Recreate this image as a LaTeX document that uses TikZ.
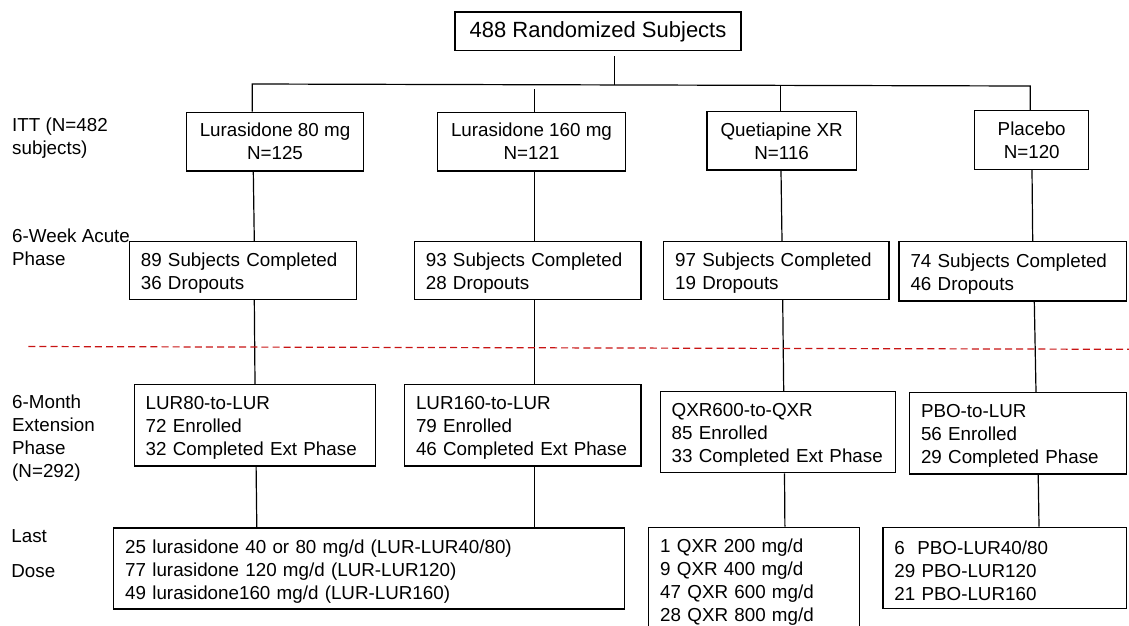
\documentclass[tikz,border=0pt]{standalone}
\usepackage{fontspec}
\setmainfont{Liberation Sans}
\newcommand{\bodyfont}{\fontsize{18.8}{23}\selectfont}
\newcommand{\topfont}{\fontsize{22}{26}\selectfont}
\newcommand{\firstlift}{\rule{0pt}{18.9pt}}
\definecolor{sepred}{RGB}{200,20,20}
\tikzset{
  box/.style={draw, line width=1.2pt, inner ysep=0pt, font=\bodyfont},
  topbox/.style={box, align=center, inner xsep=0pt, font=\topfont},
  cbox/.style={box, align=center, inner xsep=0pt, execute at begin node=\firstlift},
  lbox/.style={box, align=left, inner xsep=11.5pt, execute at begin node=\firstlift},
  lab/.style={anchor=west, inner sep=0pt, align=left, font=\bodyfont},
  conn/.style={line width=1.2pt},
  sepline/.style={draw=sepred, line width=1.2pt, dash pattern=on 7pt off 4.1pt},
}
\begin{document}
\begin{tikzpicture}[x=1pt,y=-1pt]
\useasboundingbox (0,0) rectangle (1129,625);
\clip (0,0) rectangle (1129,625);

% top
\node[topbox, minimum width=286pt, minimum height=38.7pt] (top) at (598,31.35) {488 Randomized Subjects};

% arms
\node[cbox, minimum width=176.6pt, minimum height=58.7pt] (b1) at (275,141.65) {Lurasidone 80 mg\\N=125};
\node[cbox, minimum width=187.6pt, minimum height=58.7pt] (b2) at (531.5,141.65) {Lurasidone 160 mg\\N=121};
\node[cbox, minimum width=149.3pt, minimum height=58.3pt] (b3) at (781.65,140.85) {Quetiapine XR\\N=116};
\node[cbox, minimum width=114pt, minimum height=58.6pt] (b4) at (1031.7,140) {Placebo\\N=120};

% acute phase
\node[lbox, text width=204.4pt, minimum height=57.6pt] (a1) at (243,270.5) {89 Subjects Completed\\36 Dropouts};
\node[lbox, text width=203.7pt, minimum height=57.6pt] (a2) at (527.65,270.5) {93 Subjects Completed\\28 Dropouts};
\node[lbox, text width=202.3pt, minimum height=57.6pt] (a3) at (776.35,270.5) {97 Subjects Completed\\19 Dropouts};
\node[lbox, text width=204.3pt, minimum height=59.3pt] (a4) at (1012.65,271.35) {74 Subjects Completed\\46 Dropouts};

% extension phase
\node[lbox, text width=218pt, minimum height=81.5pt] (e1) at (254.7,425.25) {LUR80-to-LUR\\72 Enrolled\\32 Completed Ext Phase};
\node[lbox, text width=213.4pt, minimum height=81.5pt] (e2) at (522.7,425.25) {LUR160-to-LUR\\79 Enrolled\\46 Completed Ext Phase};
\node[lbox, text width=212.4pt, minimum height=81.2pt] (e3) at (777.9,432.1) {QXR600-to-QXR\\85 Enrolled\\33 Completed Ext Phase};
\node[lbox, text width=194.1pt, minimum height=81.3pt] (e4) at (1018.05,433.35) {PBO-to-LUR\\56 Enrolled\\29 Completed Phase};

% last dose
\node[lbox, text width=487.8pt, minimum height=81pt] (l1) at (369.1,568.5) {25 lurasidone 40 or 80 mg/d (LUR-LUR40/80)\\77 lurasidone 120 mg/d (LUR-LUR120)\\49 lurasidone160 mg/d (LUR-LUR160)};
\node[lbox, text width=187.4pt, minimum height=104.4pt] (l2) at (753.9,579.5) {1 QXR 200 mg/d\\9 QXR 400 mg/d\\47 QXR 600 mg/d\\28 QXR 800 mg/d};
\node[lbox, text width=220.6pt, minimum height=81pt] (l3) at (1004.7,567.8) {6\ \ PBO-LUR40/80\\29 PBO-LUR120\\21 PBO-LUR160};

% row labels
\node[lab] (itt) at (12,138.5) {ITT (N=482\\subjects)};
\node[lab] (wk) at (12,247.2) {6-Week Acute\\Phase};
\node[lab] (mo) at (12,438.2) {6-Month\\Extension\\Phase\\(N=292)};
\node[lab] (last) at (11.2,536) {Last};
\node[lab] (dose) at (11.2,570.7) {Dose};

% tree connectors
\coordinate (busT) at (614.7,85);
\coordinate (busL) at (252.3,84);
\coordinate (busR) at (1030.3,86);
\coordinate (j2) at (534.3,84.9);
\coordinate (j3) at (780.3,85.5);
\draw[conn, shorten <=5pt] (busT |- top.south) -- (busT);
\draw[conn] (busL |- b1.north) -- (busL) -- (busR) -- (busR |- b4.north);
\draw[conn, shorten <=4.4pt] (j2) -- (j2 |- b2.north);
\draw[conn] (j3) -- (j3 |- b3.north);

% column 1
\draw[conn] (253.3,0 |- b1.south) -- (254.3,0 |- a1.north);
\draw[conn] (254.3,0 |- a1.south) -- (255,0 |- e1.north);
\draw[conn] (256.1,0 |- e1.south) -- (256.8,0 |- l1.north);
% column 2
\draw[conn] (534.3,0 |- b2.south) -- (534.3,0 |- a2.north);
\draw[conn] (534.3,0 |- a2.south) -- (534.3,0 |- e2.north);
\draw[conn] (534.5,0 |- e2.south) -- (534.5,0 |- l1.north);
% column 3
\draw[conn] (781,0 |- b3.south) -- (782,0 |- a3.north);
\draw[conn] (782.7,0 |- a3.south) -- (783.7,0 |- e3.north);
\draw[conn] (784.5,0 |- e3.south) -- (784.9,0 |- l2.north);
% column 4
\draw[conn] (1032,0 |- b4.south) -- (1032.7,0 |- a4.north);
\draw[conn] (1034.3,0 |- a4.south) -- (1036,0 |- e4.north);
\draw[conn] (1038.2,0 |- e4.south) -- (1039,0 |- l3.north);

% separator
\draw[sepline] (28.3,346.5) -- (1129,349.3);
\end{tikzpicture}
\end{document}
